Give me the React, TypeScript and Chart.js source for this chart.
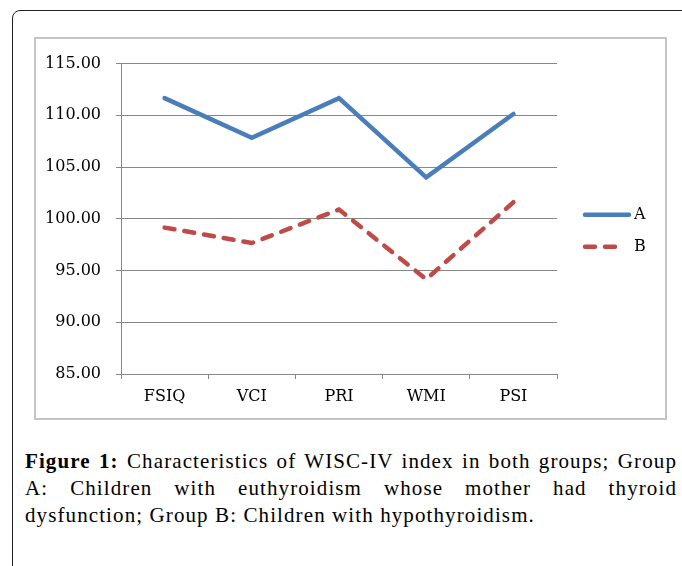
import { useEffect, useRef } from "react";
import { Chart, registerables } from "chart.js";

Chart.register(...registerables);

const categories = ["FSIQ", "VCI", "PRI", "WMI", "PSI"];
const seriesLabels = ["A", "B"];
const groupA = [111.66, 107.84, 111.66, 104.0, 110.13];
const groupB = [99.15, 97.66, 100.9, 94.16, 101.6];
const yMin = 85;
const yMax = 115;
const yStep = 5;

const AXIS_FONT = "'DejaVu Serif', serif";
const GRID = "#878787";
const BLUE = "#4A7EBB";
const RED = "#BE4B48";

const sideLegend = {
  id: "sideLegend",
  afterDraw(chart: any) {
    const ctx = chart.ctx;
    const area = chart.chartArea;
    const x0 = area.right + 28;
    const yCenter = (area.top + area.bottom) / 2 + 12;
    const gap = 32;
    chart.data.datasets.forEach((ds: any, i: number) => {
      const y = yCenter + (i - 0.5) * gap;
      const dashed = ds.borderDash && ds.borderDash.length > 0;
      ctx.save();
      ctx.strokeStyle = ds.borderColor;
      ctx.lineWidth = ds.borderWidth;
      ctx.lineCap = "round";
      ctx.setLineDash(dashed ? ds.borderDash : []);
      ctx.beginPath();
      ctx.moveTo(x0, y);
      ctx.lineTo(x0 + (dashed ? 31 : 44), y);
      ctx.stroke();
      ctx.setLineDash([]);
      ctx.fillStyle = "#000";
      ctx.font = `16px ${AXIS_FONT}`;
      ctx.textBaseline = "middle";
      ctx.textAlign = "left";
      ctx.fillText(ds.label, x0 + 49, y);
      ctx.restore();
    });
  },
};

function LineChart() {
  const ref = useRef<HTMLCanvasElement | null>(null);
  useEffect(() => {
    if (!ref.current) return;
    const chart = new Chart(ref.current, {
      type: "line",
      data: {
        labels: categories,
        datasets: [
          {
            label: seriesLabels[0],
            data: groupA,
            borderColor: BLUE,
            backgroundColor: BLUE,
            borderWidth: 4.5,
            pointRadius: 0,
            tension: 0,
            borderCapStyle: "round",
            borderJoinStyle: "miter",
          },
          {
            label: seriesLabels[1],
            data: groupB,
            borderColor: RED,
            backgroundColor: RED,
            borderWidth: 4.5,
            borderDash: [10, 10],
            pointRadius: 0,
            tension: 0,
            borderCapStyle: "round",
            borderJoinStyle: "miter",
          },
        ],
      },
      options: {
        animation: false,
        responsive: true,
        maintainAspectRatio: false,
        layout: { padding: { top: 20, right: 108, bottom: 0, left: 0 } },
        plugins: {
          legend: { display: false },
          tooltip: { enabled: false },
        },
        scales: {
          x: {
            type: "category",
            offset: true,
            afterFit: (s: any) => {
              s.height = 44;
            },
            grid: {
              offset: true,
              drawOnChartArea: false,
              drawTicks: true,
              tickLength: 5,
              color: GRID,
              lineWidth: 1,
            },
            border: { display: true, color: GRID, width: 1 },
            ticks: {
              color: "#000",
              font: { family: AXIS_FONT, size: 16 },
              padding: 8,
              maxRotation: 0,
            },
          },
          y: {
            min: yMin,
            max: yMax,
            afterFit: (s: any) => {
              s.width = 85;
            },
            grid: {
              color: GRID,
              lineWidth: 1,
              drawTicks: true,
              tickLength: 5,
            },
            border: { display: true, color: GRID, width: 1 },
            ticks: {
              stepSize: yStep,
              color: "#000",
              font: { family: AXIS_FONT, size: 16 },
              padding: 15,
              callback: (v: any) => Number(v).toFixed(2),
            },
          },
        },
      },
      plugins: [sideLegend],
    });
    return () => chart.destroy();
  }, []);
  return <canvas ref={ref} />;
}

export default function App() {
  const capFont = "'Liberation Serif', serif";
  const lineStyle: any = {
    position: "absolute",
    left: 25,
    width: 652,
    fontFamily: capFont,
    fontSize: 21,
    letterSpacing: "1.1px",
    lineHeight: "27px",
    color: "#000",
    whiteSpace: "nowrap",
  };
  const justified: any = {
    ...lineStyle,
    whiteSpace: "normal",
    textAlign: "justify",
    textAlignLast: "justify",
  };
  return (
    <div
      style={{
        position: "fixed",
        left: 0,
        top: 0,
        width: 682,
        height: 566,
        overflow: "hidden",
        background: "#fff",
      }}
    >
      <div
        style={{
          position: "absolute",
          left: 12,
          top: 10,
          width: 720,
          height: 620,
          border: "1.5px solid #222",
          borderRadius: 8,
          boxSizing: "border-box",
        }}
      />
      <div
        style={{
          position: "absolute",
          left: 34,
          top: 37,
          width: 633,
          height: 383,
          border: "2px solid #c4c4c4",
          boxSizing: "border-box",
        }}
      >
        <div style={{ position: "relative", width: 629, height: 379 }}>
          <LineChart />
        </div>
      </div>
      <div style={{ ...justified, top: 448 }}>
        <b>Figure 1:</b> Characteristics of WISC-IV index in both groups; Group
      </div>
      <div style={{ ...justified, top: 475 }}>
        A: Children with euthyroidism whose mother had thyroid
      </div>
      <div style={{ ...lineStyle, top: 502 }}>
        dysfunction; Group B: Children with hypothyroidism.
      </div>
    </div>
  );
}
